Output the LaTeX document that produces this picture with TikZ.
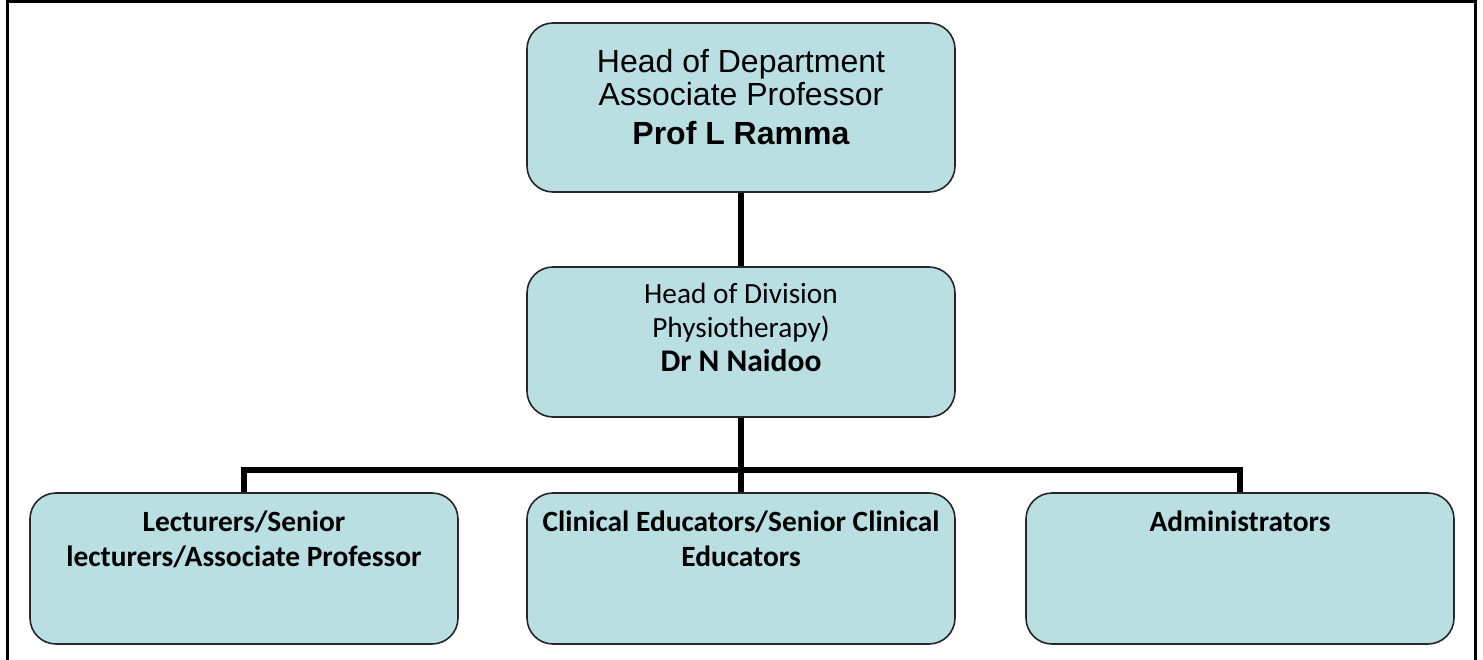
\documentclass[tikz,border=0pt]{standalone}
\usepackage{fontspec}
\setmainfont{Liberation Sans}
\newfontfamily\carlito{Carlito}
\definecolor{boxfill}{RGB}{185,223,227}

\begin{document}
\begin{tikzpicture}[x=1pt,y=-1pt,
                    unitbox/.style={draw=black!85,line width=1.6pt,fill=boxfill,rounded corners=26pt,minimum width=428pt,inner sep=0pt},
                    link/.style={line width=5.8pt},
                    boxtext/.style={align=center,inner sep=0pt,anchor=base}]
                              \useasboundingbox (0,0) rectangle (1483,660);
                              \draw[line width=3pt] (7,660) -- (7,2) -- (1475,2) -- (1475,660);

                              \node[unitbox,minimum height=169pt] (dept) at (741,107.5) {};
                              \node[unitbox,minimum height=150pt] (div) at (741,342) {};
                              \node[unitbox,minimum height=151pt] (lect) at (244,568.5) {};
                              \node[unitbox,minimum height=151pt] (clin) at (741,568.5) {};
                              \node[unitbox,minimum height=151pt] (admin) at (1240,568.5) {};
                              \coordinate (bus) at (741,470);

                              \node[boxtext,font=\fontsize{32}{33.5}\selectfont] (depttext) at (741,145) {Head of Department\\Associate Professor\\[5.5pt]\textbf{Prof L Ramma}};
                              \node[boxtext,font=\carlito\fontsize{29.3}{34.3}\selectfont] (divtext) at (741,371.7) {Head of Division\\Physiotherapy)\\{\fontsize{31.5}{34.3}\selectfont\bfseries Dr N Naidoo}};
                              \node[boxtext,font=\carlito\bfseries\fontsize{29.4}{35}\selectfont] (lecttext) at (244,566.7) {Lecturers/Senior\\lecturers/Associate Professor};
                              \node[boxtext,font=\carlito\bfseries\fontsize{29.4}{35}\selectfont] (clintext) at (741,566.7) {Clinical Educators/Senior Clinical\\Educators};
                              \node[boxtext,font=\carlito\bfseries\fontsize{29.4}{35}\selectfont] (admintext) at (1240,531.7) {Administrators};

                              \draw[link] (dept) -- (div);
                              \draw[link] (div) -- (bus);
                              \draw[link] (bus) -| (lect);
                              \draw[link] (bus) -- (clin);
                              \draw[link] (bus) -| (admin);
                      \end{tikzpicture}
\end{document}
